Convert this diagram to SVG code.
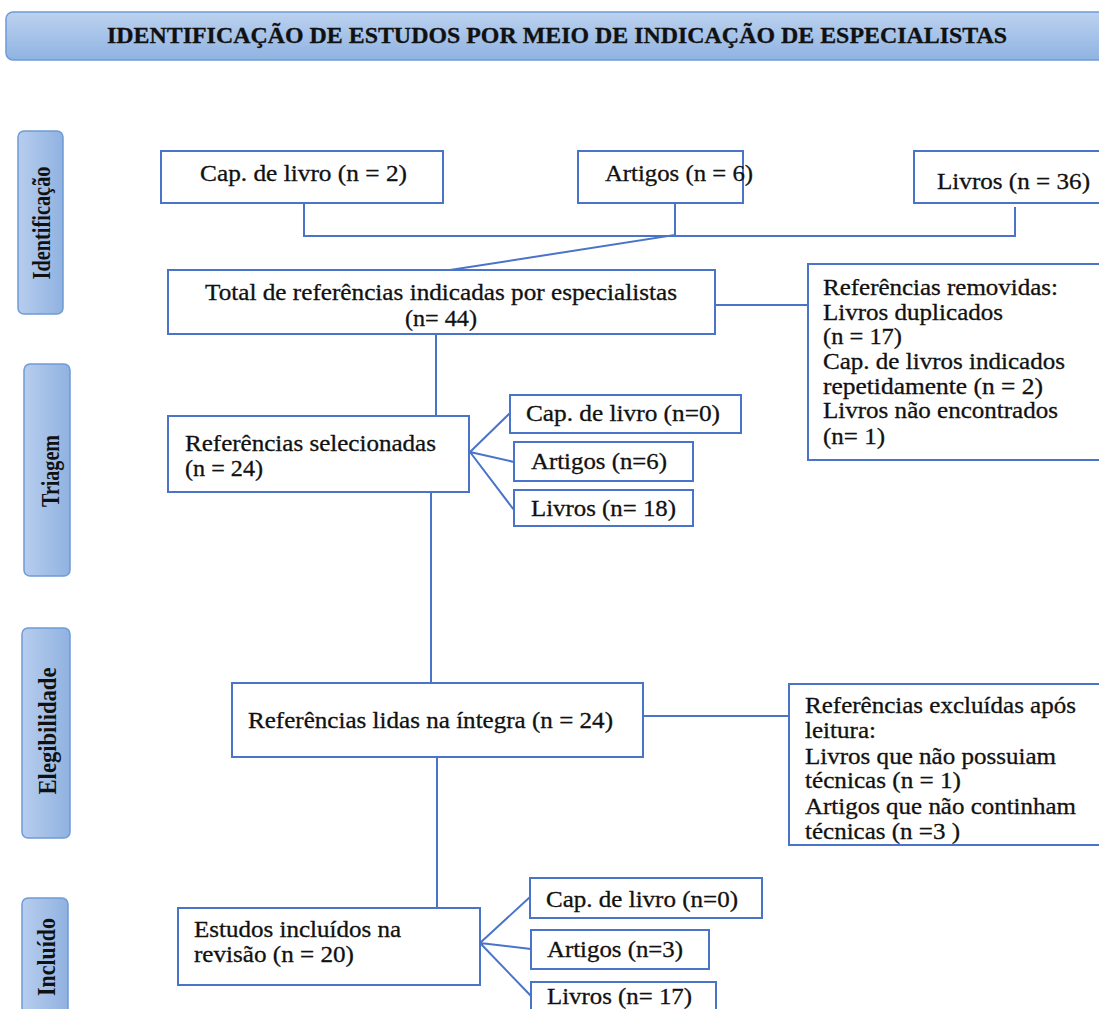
<svg xmlns="http://www.w3.org/2000/svg" width="1099" height="1009" viewBox="0 0 1099 1009">
<style>
.box{fill:#fff;stroke:#4a74c9;stroke-width:2}
.ln{fill:none;stroke:#4a74c9;stroke-width:2}
.t{font-family:"Liberation Serif","Times New Roman",serif;font-size:23px;fill:#111;stroke:#111;stroke-width:0.3}
.side{stroke:#6f9bd6;stroke-width:1.5;fill:url(#sg)}
.st{font-family:"Liberation Serif","Times New Roman",serif;font-size:25px;font-weight:bold;fill:#111}
</style>
<defs>
<linearGradient id="tg" x1="0" y1="0" x2="0" y2="1"><stop offset="0" stop-color="#bcd2ef"/><stop offset="1" stop-color="#8fb3e2"/></linearGradient>
<linearGradient id="sg" x1="0" y1="0" x2="1" y2="0"><stop offset="0" stop-color="#b7cdee"/><stop offset="1" stop-color="#90b2e0"/></linearGradient>
</defs>
<rect width="1099" height="1009" fill="#fff"/>
<g id="title">
<rect x="6" y="12" width="1110" height="48" rx="7" fill="url(#tg)" stroke="#6f9bd6" stroke-width="1.5"/>
<text x="107" y="43" class="t" font-weight="bold" font-size="23" textLength="900" lengthAdjust="spacingAndGlyphs">IDENTIFICAÇÃO DE ESTUDOS POR MEIO DE INDICAÇÃO DE ESPECIALISTAS</text>
</g>
<g id="side-identificacao"><rect x="18" y="131" width="45" height="183" rx="6" class="side"/><text class="st" transform="translate(50,223) rotate(-90)" text-anchor="middle" textLength="113" lengthAdjust="spacingAndGlyphs">Identificação</text></g>
<g id="side-triagem"><rect x="24" y="364" width="46" height="212" rx="6" class="side"/><text class="st" transform="translate(59,471) rotate(-90)" text-anchor="middle" textLength="72" lengthAdjust="spacingAndGlyphs">Triagem</text></g>
<g id="side-elegibilidade"><rect x="22" y="628" width="48" height="210" rx="6" class="side"/><text class="st" transform="translate(56,731) rotate(-90)" text-anchor="middle" textLength="127" lengthAdjust="spacingAndGlyphs">Elegibilidade</text></g>
<g id="side-incluido"><rect x="22" y="898" width="46" height="125" rx="6" class="side"/><text class="st" transform="translate(55,957) rotate(-90)" text-anchor="middle" textLength="78" lengthAdjust="spacingAndGlyphs">Incluído</text></g>

<g id="connectors">
<path class="ln" d="M304,203 V236 H1015 V207 M675,203 V235 L450,270"/>
<path class="ln" d="M715,305 H808"/>
<path class="ln" d="M436,334 V416"/>
<path class="ln" d="M470,452 L510,413 M470,452 L514,462 M470,452 L514,510"/>
<path class="ln" d="M431,492 V683"/>
<path class="ln" d="M643,716 H789"/>
<path class="ln" d="M437,757 V908"/>
<path class="ln" d="M480,943 L530,897 M480,943 L531,949 M480,943 L531,996"/>
</g>

<g id="n-cap1"><rect x="161" y="151" width="282" height="52" class="box"/><text x="200" y="181" class="t" textLength="207" lengthAdjust="spacingAndGlyphs">Cap. de livro (n = 2)</text></g>
<g id="n-art1"><rect x="578" y="151" width="165" height="52" class="box"/><text x="605" y="181" class="t" textLength="148" lengthAdjust="spacingAndGlyphs">Artigos (n = 6)</text></g>
<g id="n-liv1"><rect x="914" y="151" width="200" height="52" class="box"/><text x="937" y="189" class="t" textLength="153" lengthAdjust="spacingAndGlyphs">Livros (n = 36)</text></g>

<g id="n-total"><rect x="168" y="270" width="547" height="64" class="box"/>
<text x="205" y="300" class="t" textLength="472" lengthAdjust="spacingAndGlyphs">Total de referências indicadas por especialistas</text>
<text x="405" y="326" class="t" textLength="72" lengthAdjust="spacingAndGlyphs">(n= 44)</text></g>

<g id="n-removidas"><rect x="808" y="264" width="310" height="196" class="box"/>
<text x="823" y="295" class="t" textLength="235" lengthAdjust="spacingAndGlyphs">Referências removidas:</text>
<text x="823" y="320" class="t" textLength="180" lengthAdjust="spacingAndGlyphs">Livros duplicados</text>
<text x="823" y="344" class="t" textLength="79" lengthAdjust="spacingAndGlyphs">(n = 17)</text>
<text x="823" y="369" class="t" textLength="242" lengthAdjust="spacingAndGlyphs">Cap. de livros indicados</text>
<text x="823" y="394" class="t" textLength="220" lengthAdjust="spacingAndGlyphs">repetidamente (n = 2)</text>
<text x="823" y="418" class="t" textLength="235" lengthAdjust="spacingAndGlyphs">Livros não encontrados</text>
<text x="823" y="444" class="t" textLength="62" lengthAdjust="spacingAndGlyphs">(n= 1)</text></g>

<g id="n-selecionadas"><rect x="168" y="416" width="301" height="76" class="box"/>
<text x="185" y="451" class="t" textLength="251" lengthAdjust="spacingAndGlyphs">Referências selecionadas</text>
<text x="185" y="476" class="t" textLength="78" lengthAdjust="spacingAndGlyphs">(n = 24)</text></g>

<g id="n-cap2"><rect x="510" y="395" width="231" height="38" class="box"/><text x="526" y="421" class="t" textLength="194" lengthAdjust="spacingAndGlyphs">Cap. de livro (n=0)</text></g>
<g id="n-art2"><rect x="514" y="442" width="179" height="39" class="box"/><text x="531" y="469" class="t" textLength="136" lengthAdjust="spacingAndGlyphs">Artigos (n=6)</text></g>
<g id="n-liv2"><rect x="514" y="490" width="179" height="36" class="box"/><text x="531" y="516" class="t" textLength="145" lengthAdjust="spacingAndGlyphs">Livros (n= 18)</text></g>

<g id="n-lidas"><rect x="232" y="683" width="411" height="74" class="box"/>
<text x="248" y="728" class="t" textLength="365" lengthAdjust="spacingAndGlyphs">Referências lidas na íntegra (n = 24)</text></g>

<g id="n-excluidas"><rect x="789" y="684" width="329" height="161" class="box"/>
<text x="805" y="713" class="t" textLength="271" lengthAdjust="spacingAndGlyphs">Referências excluídas após</text>
<text x="805" y="738" class="t" textLength="71" lengthAdjust="spacingAndGlyphs">leitura:</text>
<text x="805" y="764" class="t" textLength="251" lengthAdjust="spacingAndGlyphs">Livros que não possuiam</text>
<text x="805" y="788" class="t" textLength="156" lengthAdjust="spacingAndGlyphs">técnicas (n = 1)</text>
<text x="805" y="814" class="t" textLength="271" lengthAdjust="spacingAndGlyphs">Artigos que não continham</text>
<text x="805" y="839" class="t" textLength="155" lengthAdjust="spacingAndGlyphs">técnicas (n =3 )</text></g>

<g id="n-incluidos"><rect x="178" y="908" width="302" height="77" class="box"/>
<text x="194" y="937" class="t" textLength="207" lengthAdjust="spacingAndGlyphs">Estudos incluídos na</text>
<text x="194" y="962" class="t" textLength="160" lengthAdjust="spacingAndGlyphs">revisão (n = 20)</text></g>

<g id="n-cap3"><rect x="530" y="878" width="232" height="40" class="box"/><text x="546" y="907" class="t" textLength="192" lengthAdjust="spacingAndGlyphs">Cap. de livro (n=0)</text></g>
<g id="n-art3"><rect x="531" y="930" width="178" height="39" class="box"/><text x="547" y="957" class="t" textLength="136" lengthAdjust="spacingAndGlyphs">Artigos (n=3)</text></g>
<g id="n-liv3"><rect x="531" y="982" width="185" height="40" class="box"/><text x="547" y="1004" class="t" textLength="145" lengthAdjust="spacingAndGlyphs">Livros (n= 17)</text></g>
</svg>
